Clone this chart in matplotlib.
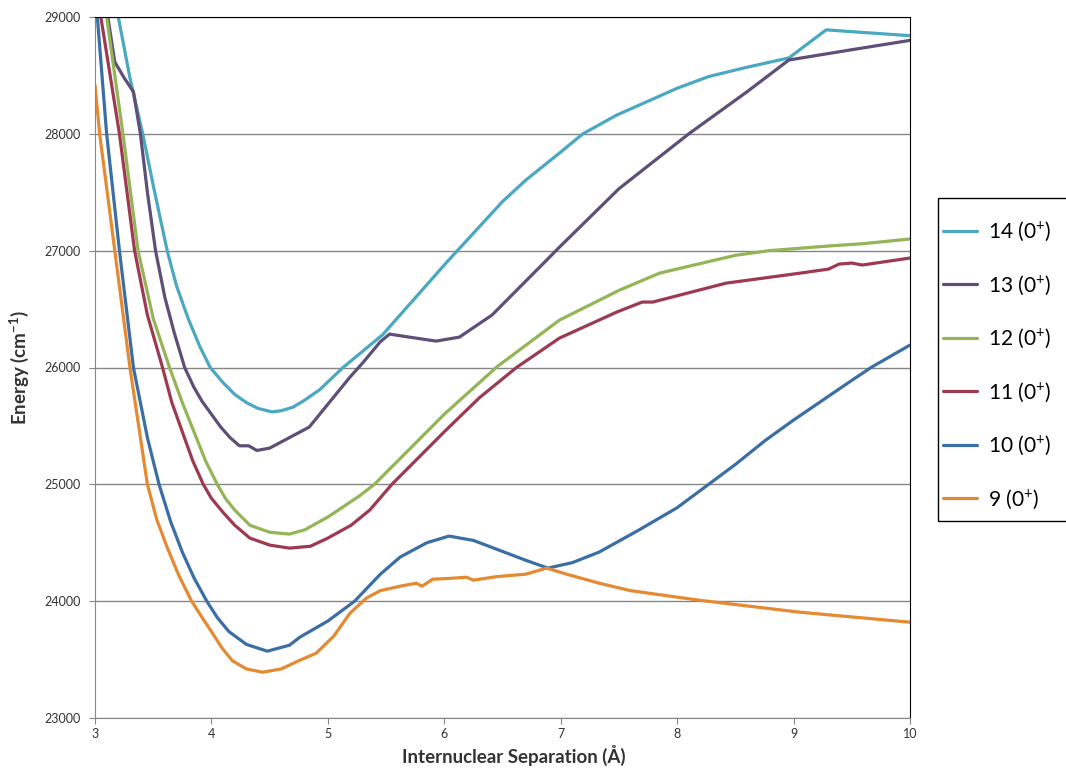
import matplotlib

matplotlib.use("Agg")
import matplotlib.pyplot as plt
from matplotlib.patches import Rectangle

# datos (separación en Å, energía en cm-1)
x14 = [3.0, 3.2, 3.3, 3.41, 3.5, 3.62, 3.7, 3.8, 3.9, 3.99, 4.1, 4.2, 4.3, 4.4, 4.52, 4.6,
       4.7, 4.8, 4.93, 5.13, 5.3, 5.47, 6.02, 6.5, 6.7, 6.99, 7.19, 7.48, 8.0, 8.27, 8.6,
       8.96, 9.28, 9.42, 10.0]
e14 = [30400, 29000, 28480, 28000, 27560, 27000, 26700, 26420, 26180, 26000, 25870, 25770,
       25700, 25650, 25620, 25630, 25660, 25720, 25810, 26000, 26140, 26280, 26900, 27420,
       27604, 27836, 28000, 28160, 28390, 28490, 28570, 28650, 28890, 28880, 28840]

x13 = [3.0, 3.11, 3.17, 3.25, 3.33, 3.39, 3.45, 3.52, 3.6, 3.68, 3.77, 3.85, 3.92, 4.0,
       4.08, 4.16, 4.24, 4.32, 4.39, 4.5, 4.67, 4.84, 5.19, 5.3, 5.45, 5.53, 5.7, 5.93, 6.13,
       6.41, 6.88, 6.99, 7.5, 8.1, 8.6, 8.96, 9.5, 10.0]
e13 = [30200, 29000, 28615, 28480, 28360, 28000, 27500, 27000, 26600, 26300, 26000, 25830,
       25710, 25600, 25490, 25400, 25330, 25330, 25290, 25310, 25400, 25490, 25918, 26040,
       26220, 26286, 26260, 26226, 26260, 26449, 26920, 27031, 27530, 28000, 28360, 28632,
       28720, 28800]

x12 = [3.0, 3.1, 3.24, 3.37, 3.5, 3.64, 3.75, 3.85, 3.95, 4.05, 4.12, 4.2, 4.33, 4.5, 4.67,
       4.8, 5.0, 5.27, 5.4, 5.7, 6.0, 6.45, 6.99, 7.5, 7.85, 8.5, 8.79, 9.3, 9.6, 10.0]
e12 = [30300, 29000, 28000, 27000, 26420, 26000, 25700, 25450, 25200, 25000, 24880, 24780,
       24650, 24590, 24574, 24610, 24720, 24900, 25000, 25300, 25600, 26004, 26406, 26660,
       26808, 26960, 27000, 27040, 27060, 27100]

x11 = [3.0, 3.05, 3.21, 3.34, 3.45, 3.58, 3.66, 3.75, 3.84, 3.93, 4.0, 4.1, 4.2, 4.33, 4.5,
       4.67, 4.85, 5.0, 5.2, 5.36, 5.55, 6.0, 6.3, 6.62, 6.99, 7.48, 7.7, 7.79, 8.42, 9.0,
       9.3, 9.39, 9.5, 9.59, 10.0]
e11 = [29600, 29000, 28000, 27000, 26450, 26000, 25700, 25450, 25200, 25000, 24880, 24760,
       24650, 24540, 24480, 24454, 24470, 24540, 24650, 24780, 25000, 25450, 25740, 26000,
       26252, 26474, 26560, 26560, 26722, 26800, 26842, 26885, 26894, 26877, 26937]

x10 = [3.0, 3.02, 3.10, 3.21, 3.33, 3.45, 3.55, 3.65, 3.75, 3.85, 3.96, 4.05, 4.15, 4.3,
       4.48, 4.67, 4.76, 5.0, 5.23, 5.45, 5.62, 5.85, 6.04, 6.25, 6.47, 6.7, 6.89, 7.1, 7.33,
       7.67, 8.0, 8.5, 8.76, 9.0, 9.5, 9.67, 10.0]
e10 = [29300, 29000, 28000, 27000, 26000, 25400, 25000, 24680, 24420, 24200, 24000, 23860,
       23740, 23630, 23572, 23623, 23692, 23830, 24000, 24230, 24377, 24500, 24557, 24520,
       24437, 24350, 24283, 24330, 24420, 24608, 24800, 25170, 25378, 25550, 25890, 26003,
       26192]

x9 = [3.0, 3.04, 3.17, 3.30, 3.45, 3.53, 3.62, 3.72, 3.83, 3.92, 4.0, 4.09, 4.18, 4.3,
      4.44, 4.6, 4.75, 4.9, 5.05, 5.19, 5.33, 5.45, 5.62, 5.76, 5.81, 5.9, 6.05, 6.19, 6.25,
      6.45, 6.7, 6.88, 7.05, 7.33, 7.6, 8.19, 9.05, 9.5, 10.0]
e9 = [28418, 28000, 27000, 26000, 25000, 24700, 24460, 24220, 24000, 23860, 23740, 23600,
      23490, 23420, 23392, 23420, 23490, 23555, 23700, 23897, 24026, 24090, 24128, 24154,
      24128, 24188, 24195, 24205, 24180, 24210, 24231, 24283, 24231, 24154, 24090, 24008,
      23906, 23865, 23820]

labels = ["14 (0$^{+}$)", "13 (0$^{+}$)", "12 (0$^{+}$)", "11 (0$^{+}$)",
          "10 (0$^{+}$)", "9 (0$^{+}$)"]
colors = ["#4aa8c0", "#5d4f77", "#93b556", "#9d3a52", "#3b6ea5", "#e38a32"]

plt.rcParams["font.family"] = ["Lato", "DejaVu Sans"]
plt.rcParams["mathtext.fontset"] = "custom"
plt.rcParams["mathtext.rm"] = "Lato"
plt.rcParams["mathtext.bf"] = "Lato:bold"
plt.rcParams["mathtext.default"] = "regular"

W, H = 1066, 784
fig = plt.figure(figsize=(W / 100, H / 100), dpi=100)
ax = fig.add_axes([95 / W, 1 - 718 / H, 815 / W, 701 / H])

series = [(x14, e14), (x13, e13), (x12, e12), (x11, e11), (x10, e10), (x9, e9)]
for (xs, es), lab, col in zip(series, labels, colors):
    ax.plot(xs, es, color=col, lw=2.3, label=lab, solid_joinstyle="round",
            solid_capstyle="round")

ax.set_xlim(3, 10)
ax.set_ylim(23000, 29000)
ax.set_xticks(range(3, 11))
ax.set_yticks(range(23000, 29001, 1000))
ax.grid(axis="y", color="#868686", lw=1)
ax.set_axisbelow(True)

for s in ["left", "bottom"]:
    ax.spines[s].set_color("#868686")
for s in ["top", "right"]:
    ax.spines[s].set_color("black")
ax.tick_params(direction="out", length=4, color="#868686", labelsize=9,
               labelcolor="#333333")
ax.tick_params(axis="y", pad=6)

ax.set_xlabel("Internuclear Separation (Å)", fontsize=13.5, fontweight="bold",
              color="#333333", labelpad=4)
ax.xaxis.set_label_coords(0.514, -0.038)
ax.set_ylabel("Energy (cm$^{\\mathbf{-1}}$)", fontsize=13.5, fontweight="bold",
              color="#333333", labelpad=10)

# caja de la leyenda (se sale por el borde derecho, como en el original)
fig.patches.append(Rectangle((938 / W, 1 - 521 / H), 140 / W, 323 / H,
                             transform=fig.transFigure, fill=False,
                             edgecolor="black", lw=1.0))
fig.legend(loc="upper left", bbox_to_anchor=(943 / W, 1 - 220 / H),
           fontsize=15, frameon=False, borderpad=0, labelspacing=1.45,
           handlelength=1.63, handletextpad=0.53, borderaxespad=0)

fig.savefig("out.png", dpi=100)
